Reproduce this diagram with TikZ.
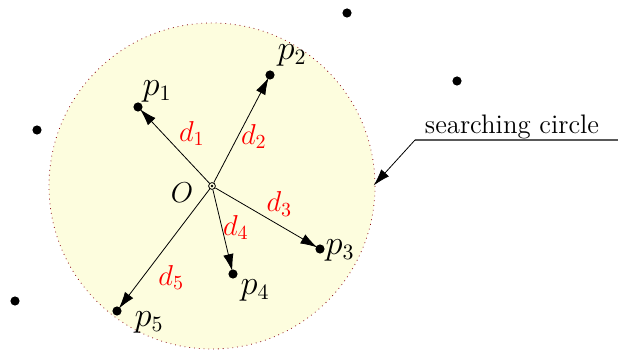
\documentclass[tikz,border=0pt]{standalone}
\usepackage{amsmath}
\usepackage{tikz}
\usetikzlibrary{arrows.meta}
\definecolor{searchfill}{RGB}{253,253,222}
\definecolor{searchline}{RGB}{140,10,20}

\begin{document}
\begin{tikzpicture}[x=0.0176cm, y=-0.0176cm,
    dot/.style={circle, fill=black, inner sep=0pt, minimum size=4.6pt},
    centre/.style={circle, draw, inner sep=0pt, minimum size=3.4pt},
    dist/.style={-{Latex[length=8.5pt,width=5.2pt]}, shorten >=-1pt},
    plabel/.style={font=\fontsize{16}{19}\selectfont},
    dlabel/.style={red, font=\fontsize{14}{17}\selectfont}]
    \useasboundingbox (0,0) rectangle (618,353);
    % Draw searching circle
    \draw[searchline, dotted, fill=searchfill] (212,186) circle (163);
    % Centre
    \node[centre] (O) at (212,186) {};
    \fill (O) circle (0.7pt);
    \node[font=\fontsize{15}{18}\selectfont] at (182,193) {$O$};
    % Points inside the circle
    \node[dot] (p1) at (138,107) {};
    \node[dot] (p2) at (270,75) {};
    \node[dot] (p3) at (320,249) {};
    \node[dot] (p4) at (233,274) {};
    \node[dot] (p5) at (117,311) {};
    \node[plabel] at (157,91) {$p_1$};
    \node[plabel] at (292,55) {$p_2$};
    \node[plabel] at (340,250) {$p_3$};
    \node[plabel] at (255,290) {$p_4$};
    \node[plabel] at (149,322) {$p_5$};
    % Points outside the circle
    \node[dot] (q1) at (347,13) {};
    \node[dot] (q2) at (457,81) {};
    \node[dot] (q3) at (37,130) {};
    \node[dot] (q4) at (15,301) {};
    % Distances
    \draw[dist] (O) -- (p1) node[dlabel, pos=0.55, right=0pt, yshift=5pt] {$d_1$};
    \draw[dist] (O) -- (p2) node[dlabel, pos=0.45, right=-2pt] {$d_2$};
    \draw[dist] (O) -- (p3) node[dlabel, pos=0.5, above right=-3pt] {$d_3$};
    \draw[dist] (O) -- (p4) node[dlabel, pos=0.48, right=-3pt] {$d_4$};
    \draw[dist] (O) -- (p5) node[dlabel, pos=0.75, right=4.5pt] {$d_5$};
    % Label of the circle
    \coordinate (c1) at (375,184);
    \coordinate (k) at (415,140);
    \coordinate (e) at (618,140);
    \draw[black!65, thick] (k) -- (e);
    \draw[dist] (k) -- (c1);
    \node[font=\fontsize{13.4}{16}\selectfont] (lbl) at (512,127) {searching circle};
\end{tikzpicture}
\end{document}
